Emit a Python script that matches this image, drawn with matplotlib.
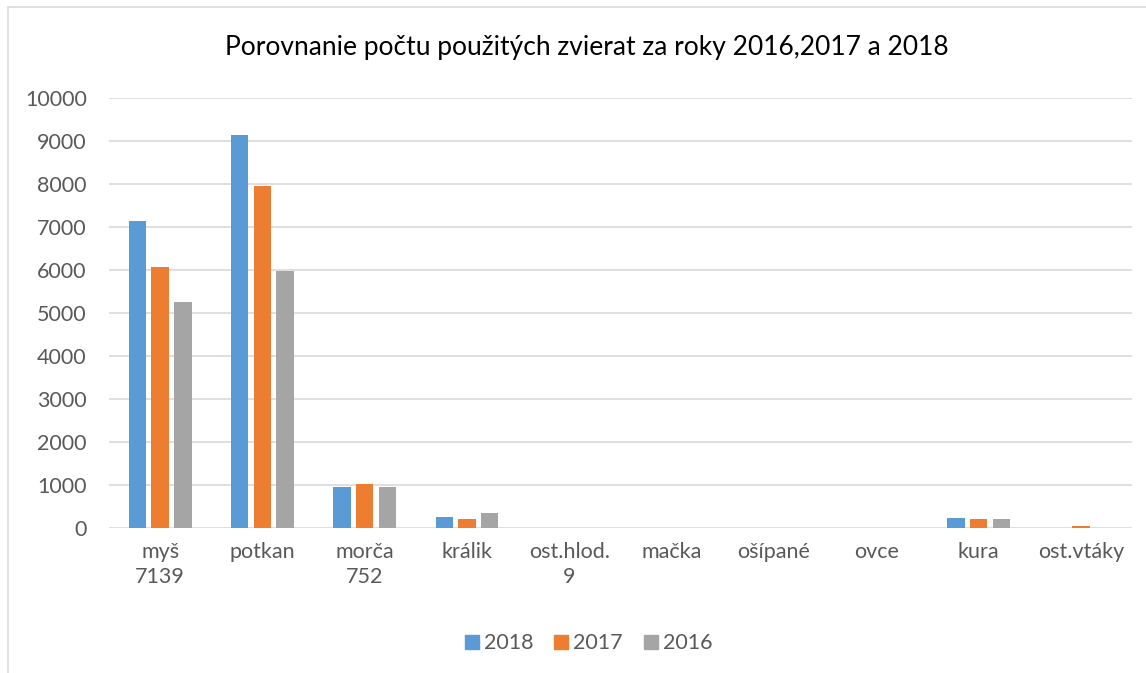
import matplotlib.pyplot as plt
import numpy as np
from matplotlib.patches import Rectangle
from matplotlib.lines import Line2D

plt.rcParams['font.family'] = ['Lato', 'DejaVu Sans']

kategorie = ["myš\n7139", "potkan", "morča\n752", "králik", "ost.hlod.\n9",
             "mačka", "ošípané", "ovce", "kura", "ost.vtáky"]
roky = ["2018", "2017", "2016"]
r2018 = [7139, 9130, 942, 262, 9, 3, 2, 1, 240, 5]
r2017 = [6077, 7946, 1021, 209, 6, 4, 2, 1, 216, 53]
r2016 = [5260, 5985, 942, 348, 4, 2, 1, 1, 209, 3]
farby = ["#5b9bd5", "#ed7d31", "#a5a5a5"]

fig = plt.figure(figsize=(11.46, 6.73), dpi=100)
# ram grafu (vpravo a dole presahuje obrazok)
fig.patches.append(Rectangle((8 / 1146, -0.05), 1.1, 1 - 7 / 673 + 0.05,
                             transform=fig.transFigure, fill=False,
                             edgecolor="#d9d9d9", lw=1.2))

ax = fig.add_axes([109 / 1146, 1 - 528 / 673, (1132 - 109) / 1146, (528 - 98) / 673])
x = np.arange(len(kategorie))
sirka = 0.17
krok = 0.222
for i, (hodnoty, rok) in enumerate(zip([r2018, r2017, r2016], roky)):
    ax.bar(x + (i - 1) * krok, hodnoty, sirka, color=farby[i], label=rok, zorder=3)

ax.set_xlim(-0.5, len(kategorie) - 0.5)
ax.set_ylim(0, 10000)
ax.set_yticks(range(0, 10001, 1000))
ax.set_xticks(x)
ax.set_xticklabels(kategorie, fontsize=15.5, color="#595959", linespacing=1.35, va="top")
ax.tick_params(axis="y", labelsize=15.5, labelcolor="#595959", length=0, pad=16)
ax.tick_params(axis="x", length=0, pad=10)
ax.grid(axis="y", color="#d9d9d9", lw=1.2, zorder=0)
for s in ax.spines.values():
    s.set_visible(False)

fig.text(0.512, 1 - 48 / 673, "Porovnanie počtu použitých zvierat za roky 2016,2017 a 2018",
         ha="center", va="center", fontsize=19, color="black")

stvorce = [Line2D([], [], marker="s", ls="", color=c, markersize=9.5) for c in farby]
ax.legend(stvorce, roky, loc="center", bbox_to_anchor=(0.469, -0.268), ncol=3,
          frameon=False, fontsize=15.5, labelcolor="#595959", handlelength=0.6,
          handletextpad=0.25, columnspacing=1.0)

fig.savefig("out.png", dpi=100)
